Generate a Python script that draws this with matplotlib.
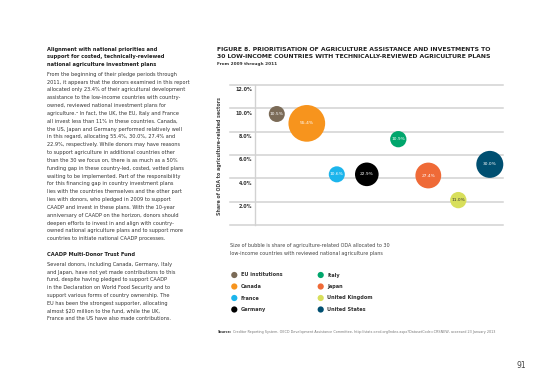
import numpy as np
import matplotlib
matplotlib.use("Agg")
import matplotlib.pyplot as plt
from matplotlib.transforms import ScaledTranslation

# bubble data
donors = ["EU institutions", "Canada", "France", "Germany",
          "Italy", "Japan", "United Kingdom", "United States"]
xpos = [1.0, 2.0, 3.0, 4.0, 5.05, 6.05, 7.05, 8.1]
odaShare = [9.5, 8.7, 4.35, 4.35, 7.35, 4.25, 2.15, 5.2]     # y, % to agriculture
bubbleShare = [10.5, 55.4, 10.6, 22.9, 10.9, 27.4, 11.0, 30.0]  # size, % to 30 LICs
colors = ["#7b6b57", "#f7941d", "#1cb5ec", "#000000",
          "#00a66c", "#ef6a37", "#d8df5b", "#004f71"]
labelColors = ["white"] * 6 + ["#333333", "white"]
yticks = [2, 4, 6, 8, 10, 12]

W, H = 550, 389
fig = plt.figure(figsize=(W / 100, H / 100), dpi=100)
fig.patch.set_facecolor("white")

# overlay in page pixels for all the page text
pg = fig.add_axes([0, 0, 1, 1])
pg.set_xlim(0, W)
pg.set_ylim(H, 0)
pg.axis("off")

FAM = ["DejaVu Sans"]

# ---- left text column
head1 = ["Alignment with national priorities and",
         "support for costed, technically-reviewed",
         "national agriculture investment plans"]
body1 = ["From the beginning of their pledge periods through",
         "2011, it appears that the donors examined in this report",
         "allocated only 23.4% of their agricultural development",
         "assistance to the low-income countries with country-",
         "owned, reviewed national investment plans for",
         "agriculture.\u2079 In fact, the UK, the EU, Italy and France",
         "all invest less than 11% in these countries. Canada,",
         "the US, Japan and Germany performed relatively well",
         "in this regard, allocating 55.4%, 30.0%, 27.4% and",
         "22.9%, respectively. While donors may have reasons",
         "to support agriculture in additional countries other",
         "than the 30 we focus on, there is as much as a 50%",
         "funding gap in these country-led, costed, vetted plans",
         "waiting to be implemented. Part of the responsibility",
         "for this financing gap in country investment plans",
         "lies with the countries themselves and the other part",
         "lies with donors, who pledged in 2009 to support",
         "CAADP and invest in these plans. With the 10-year",
         "anniversary of CAADP on the horizon, donors should",
         "deepen efforts to invest in and align with country-",
         "owned national agriculture plans and to support more",
         "countries to initiate national CAADP processes."]
head2 = "CAADP Multi-Donor Trust Fund"
body2 = ["Several donors, including Canada, Germany, Italy",
         "and Japan, have not yet made contributions to this",
         "fund, despite having pledged to support CAADP",
         "in the Declaration on World Food Security and to",
         "support various forms of country ownership. The",
         "EU has been the strongest supporter, allocating",
         "almost $20 million to the fund, while the UK,",
         "France and the US have also made contributions."]

LX = 47
for i, s in enumerate(head1):
    pg.text(LX, 49.3 + i * 7.5, s, fontsize=3.7, fontweight="bold",
            color="#222222", va="center", ha="left", family=FAM)
for i, s in enumerate(body1):
    pg.text(LX, 74.3 + i * 7.83, s, fontsize=3.65, color="#333333",
            va="center", ha="left", family=FAM)
pg.text(LX, 254.3, head2, fontsize=3.7, fontweight="bold",
        color="#222222", va="center", ha="left", family=FAM)
for i, s in enumerate(body2):
    pg.text(LX, 264.3 + i * 7.8, s, fontsize=3.65, color="#333333",
            va="center", ha="left", family=FAM)

# ---- figure title
pg.text(216.7, 49.3, "FIGURE 8. PRIORITISATION OF AGRICULTURE ASSISTANCE AND INVESTMENTS TO",
        fontsize=4.4, fontweight="bold", color="#222222", va="center", family=FAM)
pg.text(216.7, 56.7, "30 LOW-INCOME COUNTRIES WITH TECHNICALLY-REVIEWED AGRICULTURE PLANS",
        fontsize=4.4, fontweight="bold", color="#222222", va="center", family=FAM)
pg.text(216.7, 63.8, "From 2009 through 2011", fontsize=3.1, fontweight="bold",
        color="#333333", va="center", family=FAM)

# ---- bubble chart
y0, y12 = 225.3, 84.7
ax = fig.add_axes([230 / W, 1 - y0 / H, (503 - 230) / W, (y0 - y12) / H])
ax.set_xlim(-0.56, 8.54)
ax.set_ylim(0, 12)
ax.axis("off")

for v in [0] + yticks:
    ax.axhline(v, color="#d2d2d2", lw=1.1, zorder=0, clip_on=False)
ax.plot([0.28, 0.28], [0, 12], color="#d2d2d2", lw=1.0, zorder=0, clip_on=False)

off = ScaledTranslation(-3 / 100, -5 / 100, fig.dpi_scale_trans)
for v in yticks:
    ax.text(0.28, v, "%.1f%%" % v, fontsize=3.5, fontweight="bold",
            color="#333333", ha="right", va="center",
            transform=ax.transData + off, family=FAM)

sizes = np.array(bubbleShare) * 12.6
ax.scatter(xpos, odaShare, s=sizes, c=colors, edgecolors="none", zorder=3,
           clip_on=False)
for x, y, b, lc in zip(xpos, odaShare, bubbleShare, labelColors):
    ax.text(x, y, "%.1f%%" % b, fontsize=3.2, color=lc, ha="center",
            va="center", zorder=4, family=FAM)

pg.text(219, 156, "Share of ODA to agriculture-related sectors", rotation=90,
        fontsize=3.4, fontweight="bold", color="#444444", ha="center",
        va="center", family=FAM)

# ---- caption and legend
pg.text(230, 245, "Size of bubble is share of agriculture-related ODA allocated to 30",
        fontsize=3.55, color="#444444", va="center", family=FAM)
pg.text(230, 253.3, "low-income countries with reviewed national agriculture plans",
        fontsize=3.55, color="#444444", va="center", family=FAM)

rowsY = [275, 286.5, 298, 309.5]
for i, (name, col) in enumerate(zip(donors, colors)):
    cx = 234.3 if i < 4 else 320.7
    cy = rowsY[i % 4]
    pg.scatter([cx], [cy], s=20, c=col, edgecolors="none")
    pg.text(cx + 6.5, cy, name, fontsize=3.6, fontweight="bold",
            color="#333333", va="center", family=FAM)

src = pg.text(217.3, 332, "Source:", fontsize=2.45, fontweight="bold",
              color="#333333", va="center", family=FAM)
r = fig.canvas.get_renderer()
srcEnd = src.get_window_extent(r).x1 + 1.5
pg.text(srcEnd, H - 332, "Creditor Reporting System, OECD Development Assistance Committee, "
        "http://stats.oecd.org/Index.aspx?DatasetCode=CRSNEW, accessed 23 January 2013",
        fontsize=2.42, color="#777777", va="center", family=FAM, transform=None)

pg.text(521.7, 366, "91", fontsize=5.5, color="#444444", ha="center",
        va="center", family=FAM)

fig.savefig("out.png", dpi=100, facecolor="white")
